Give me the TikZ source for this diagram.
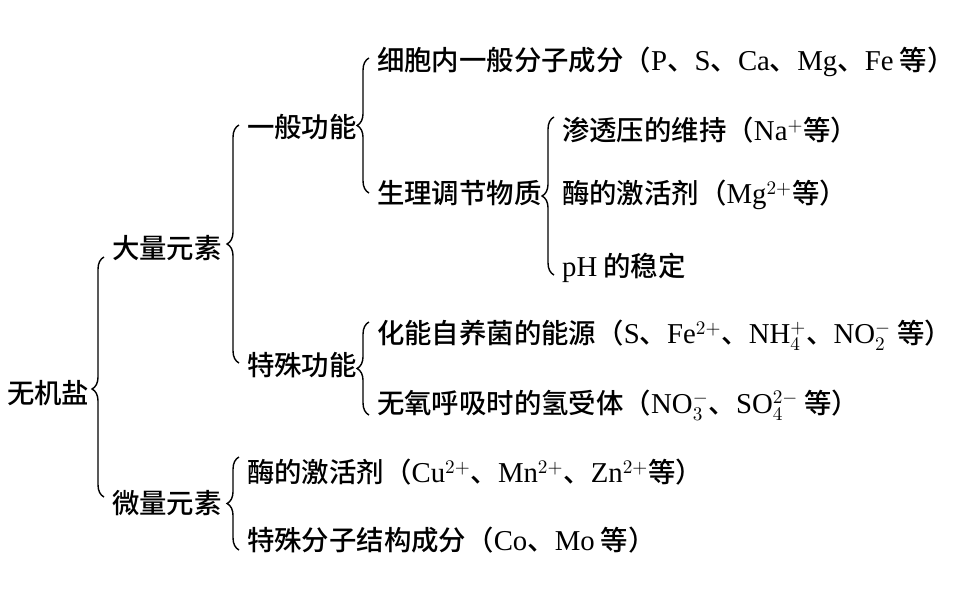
\documentclass[tikz,border=0pt]{standalone}
\usepackage{fontspec}
\setmainfont{Noto Sans CJK SC}[UprightFont=* Medium]
\newfontfamily\latfont{Liberation Serif}[Scale=1.05]
\newcommand{\lat}[1]{{\latfont #1}}
\usetikzlibrary{decorations.pathreplacing}

\tikzset{
  item/.style={anchor=west, inner sep=1pt, font=\fontsize{15.6}{18}\selectfont},
  brc/.style={decorate, decoration={brace, amplitude=6.8pt, aspect=#1}, line width=0.8pt},
  brc/.default=0.5
}

\begin{document}
\begin{tikzpicture}[x=0.02cm, y=-0.02cm]
  \useasboundingbox (0,0) rectangle (960,596);
  \node[item] (salt) at (5,393) {无机盐};
  \node[item] (major) at (110,248) {大量元素};
  \node[item] (trace) at (110,503) {微量元素};
  \node[item] (general) at (245,127) {一般功能};
  \node[item] (special) at (245,365) {特殊功能};
  \node[item] (cell) at (375,62) {细胞内一般分子成分（\lat{P}、\lat{S}、\lat{Ca}、\lat{Mg}、\lat{Fe} 等）};
  \node[item] (regul) at (375,193) {生理调节物质};
  \node[item] (osmo) at (560,130) {渗透压的维持（\lat{Na}$^{+}$等）};
  \node[item] (enzA) at (560,195) {酶的激活剂（\lat{Mg}$^{2+}$等）};
  \node[item] (ph) at (560,268) {\lat{pH} 的稳定};
  \node[item] (chemo) at (375,335) {化能自养菌的能源（\lat{S}、\lat{Fe}$^{2+}$、\lat{NH}$_4^{+}$、\lat{NO}$_2^{-}$ 等）};
  \node[item] (anaer) at (375,405) {无氧呼吸时的氢受体（\lat{NO}$_3^{-}$、\lat{SO}$_4^{2-}$ 等）};
  \node[item] (enzB) at (245,472) {酶的激活剂（\lat{Cu}$^{2+}$、\lat{Mn}$^{2+}$、\lat{Zn}$^{2+}$等）};
  \node[item] (struct) at (245,540) {特殊分子结构成分（\lat{Co}、\lat{Mo} 等）};

  \draw[brc=0.45] ([shift={(-6,-6)}]trace.west) -- ([shift={(-6,9)}]major.west);
  \draw[brc] ([shift={(-6,-2)}]special.west) -- ([shift={(-6,-2)}]general.west);
  \draw[brc] ([shift={(-6,0)}]regul.west) -- ([shift={(-6,-4)}]cell.west);
  \draw[brc] ([shift={(-6,7)}]ph.west) -- ([shift={(-6,-13)}]osmo.west);
  \draw[brc] ([shift={(-6,10)}]anaer.west) -- ([shift={(-6,-13)}]chemo.west);
  \draw[brc] ([shift={(-6,10)}]struct.west) -- ([shift={(-6,-15)}]enzB.west);
\end{tikzpicture}
\end{document}
